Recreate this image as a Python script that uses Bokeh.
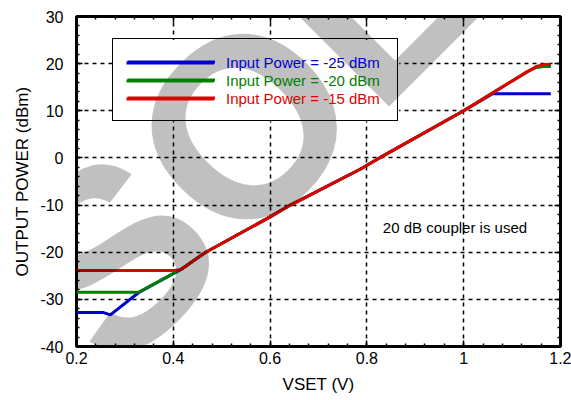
import numpy as np
from math import pi
from bokeh.plotting import figure
from bokeh.models import FixedTicker, LinearAxis, Legend, LegendItem, Label, BoxAnnotation
from bokeh.embed import file_html
from bokeh.resources import INLINE

# ---- data ----
x_ticks = [0.2, 0.4, 0.6, 0.8, 1.0, 1.2]
x_tick_labels = ["0.2", "0.4", "0.6", "0.8", "1", "1.2"]
y_ticks = [-40, -30, -20, -10, 0, 10, 20, 30]
y_tick_labels = ["-40", "-30", "-20", "-10", "0", "10", "20", "30"]

series_names = ["Input Power = -25 dBm", "Input Power = -20 dBm", "Input Power = -15 dBm"]
series_colors = ["#0000cc", "#008000", "#e00000"]

x_m25 = [0.2, 0.256, 0.27, 0.328, 0.415, 0.467, 0.6, 0.642, 0.786, 0.826, 1.0, 1.06, 1.18]
y_m25 = [-32.8, -32.8, -33.3, -28.6, -23.7, -20.0, -12.5, -10.0, -2.4, 0.0, 10.0, 13.6, 13.6]

x_m20 = [0.2, 0.328, 0.415, 0.467, 0.6, 0.642, 0.786, 0.826, 1.0, 1.06, 1.13, 1.15, 1.165, 1.18]
y_m20 = [-28.5, -28.5, -23.7, -20.0, -12.5, -10.0, -2.4, 0.0, 10.0, 13.8, 18.2, 19.2, 19.4, 19.4]

x_m15 = [0.2, 0.4, 0.415, 0.467, 0.6, 0.642, 0.786, 0.826, 1.0, 1.06, 1.13, 1.15, 1.165, 1.18]
y_m15 = [-23.9, -23.9, -23.7, -20.0, -12.5, -10.0, -2.4, 0.0, 10.0, 13.8, 18.2, 19.4, 19.8, 19.8]

note_text = "20 dB coupler is used"
watermark_text = "OBSOLETE"
x_title = "VSET (V)"
y_title = "OUTPUT POWER (dBm)"

FONT = "Liberation Sans"

p = figure(width=571, height=400, x_range=(0.2, 1.2), y_range=(-40, 30),
           output_backend="svg", toolbar_location=None,
           min_border_left=76, min_border_right=11, min_border_top=16, min_border_bottom=54)
p.background_fill_color = "white"
p.border_fill_color = "white"

x_minor = [float(v) for v in np.round(np.arange(0.2, 1.2001, 0.04), 4)]
y_minor = [float(v) for v in np.arange(-40, 30.01, 2)]

def style_axis(ax, ticks, labels, minor, show_labels):
    ax.ticker = FixedTicker(ticks=ticks, minor_ticks=minor)
    ax.major_label_overrides = {t: l for t, l in zip(ticks, labels)}
    ax.axis_line_color = None
    ax.major_tick_in = 6
    ax.major_tick_out = 0
    ax.minor_tick_in = 3
    ax.minor_tick_out = 0
    ax.major_tick_line_color = "black"
    ax.minor_tick_line_color = "black"
    ax.major_tick_line_width = 1.5
    ax.minor_tick_line_width = 1.5
    ax.major_label_text_font = FONT
    ax.major_label_text_color = "black"
    if show_labels:
        ax.major_label_text_font_size = "16px"
    else:
        ax.major_label_text_font_size = "0px"
        ax.major_label_standoff = 0

xa = p.xaxis[0]
ya = p.yaxis[0]
style_axis(xa, x_ticks, x_tick_labels, x_minor, True)
style_axis(ya, y_ticks, y_tick_labels, y_minor, True)
xa.major_label_standoff = 5
ya.major_label_standoff = 13
xa.axis_label = x_title
ya.axis_label = y_title
for ax in (xa, ya):
    ax.axis_label_text_font = FONT
    ax.axis_label_text_font_size = "17px"
    ax.axis_label_text_font_style = "normal"
    ax.axis_label_text_color = "black"
xa.axis_label_standoff = 8
ya.axis_label_standoff = 5

top = LinearAxis()
right = LinearAxis()
style_axis(top, x_ticks, x_tick_labels, x_minor, False)
style_axis(right, y_ticks, y_tick_labels, y_minor, False)
p.add_layout(top, "above")
p.add_layout(right, "right")

p.xgrid.ticker = FixedTicker(ticks=x_ticks)
p.ygrid.ticker = FixedTicker(ticks=y_ticks)
for g in (p.xgrid, p.ygrid):
    g.grid_line_color = "black"
    g.grid_line_dash = "4 4"
    g.grid_line_width = 1.5
    g.grid_line_alpha = 1.0

# white patch that hides the grid behind the legend box (drawn right after the grid)
legend_bg = BoxAnnotation(left=0.2745, right=0.8667, top=25.0, bottom=7.8,
                          fill_color="white", fill_alpha=1.0, line_color=None, level="underlay")
p.add_layout(legend_bg)

p.outline_line_color = "black"
p.outline_line_width = 3
p.outline_line_alpha = 1.0

xs = [x_m25, x_m20, x_m15]
ys = [y_m25, y_m20, y_m15]
renderers = []
for xv, yv, c in zip(xs, ys, series_colors):
    renderers.append(p.line(xv, yv, line_color=c, line_width=3))

common = dict(margin=0, glyph_width=88, glyph_height=17, label_height=17,
              spacing=1, label_standoff=12, label_width=156,
              label_text_font=FONT, label_text_font_size="15px")

# box legend (border + glyphs); coloured labels drawn by the per-series legends below
box_legend = Legend(items=[LegendItem(label=n, renderers=[r]) for n, r in zip(series_names, renderers)],
                    location=(36, 225), padding=14, label_text_alpha=0,
                    border_line_color="black", border_line_width=1.5, border_line_alpha=1.0,
                    background_fill_alpha=0.0, **common)
p.add_layout(box_legend)

# borderless legends have no padding in Bokeh, so they sit 14px inside the box origin
row_locs = [(50, 275), (50, 257), (50, 239)]
for n, r, c, loc in zip(series_names, renderers, series_colors, row_locs):
    lg = Legend(items=[LegendItem(label=n, renderers=[r])], location=loc, padding=14,
                label_text_color=c, border_line_color=None,
                background_fill_alpha=0.0, **common)
    p.add_layout(lg)

p.add_layout(Label(x=0.833, y=-14.8, text=note_text, text_color="black", text_font=FONT,
                   text_font_size="15px", text_baseline="middle", level="overlay"))

# watermark: translucent black over everything (acts like a grey multiply)
wm = Label(x=0.619, y=14.2, text=watermark_text, angle=pi / 4, text_align="center",
           text_baseline="alphabetic", text_font=FONT, text_font_style="bold",
           text_font_size="255px", text_color="black", text_alpha=0.247, level="overlay")
p.add_layout(wm)

open("out.html", "w").write(file_html(p, INLINE))
